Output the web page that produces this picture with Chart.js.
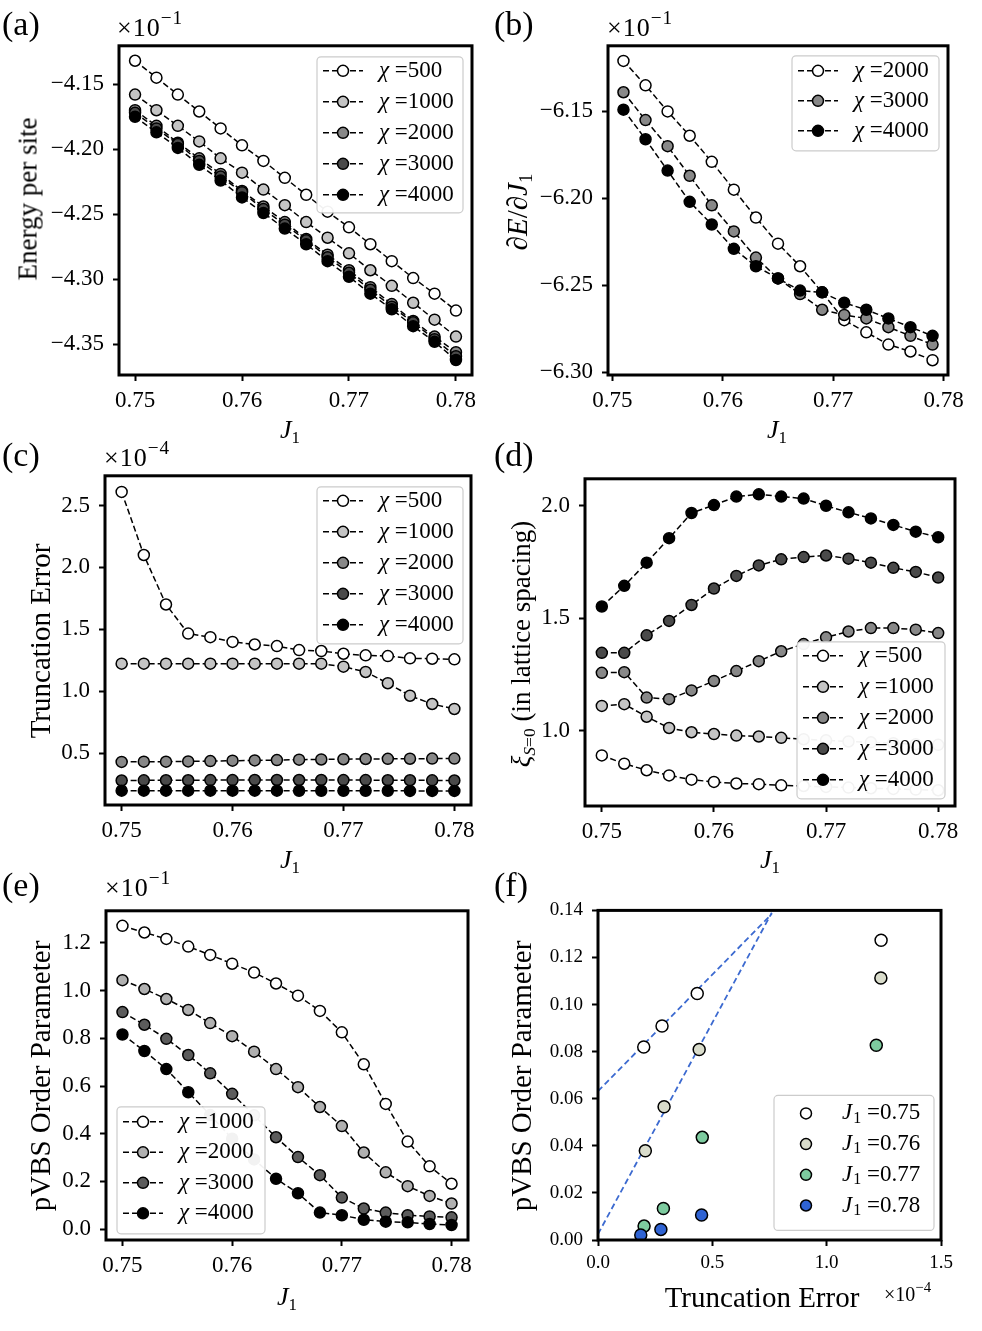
<!DOCTYPE html>
<html>
<head>
<meta charset="utf-8">
<title>DMRG J1 scan</title>
<script src="https://cdn.jsdelivr.net/npm/chart.js@4.4.1/dist/chart.umd.min.js"></script>
<style>
  body { margin: 0; width: 982px; height: 1331px; position: relative; background: #fff; overflow: hidden;
         font-family: "Liberation Serif", "DejaVu Serif", serif; color: #000; }
  canvas { position: absolute; }
  .lbl { position: absolute; white-space: nowrap; line-height: 1; }
  .panel { font-size: 34px; }
  .title { font-size: 26px; transform: translate(-50%, -50%); }
  .vtitle { font-size: 29px; transform: translate(-50%, -50%) rotate(-90deg); }
  .offset { font-size: 26px; letter-spacing: 1px; }
  .small { font-size: 20px; }
  sup { font-size: 74%; vertical-align: 0.6em; line-height: 0; }
  sub { font-size: 65%; vertical-align: -0.3em; line-height: 0; }
</style>
</head>
<body>

<canvas id="pa"></canvas>
<canvas id="pb"></canvas>
<canvas id="pc"></canvas>
<canvas id="pd"></canvas>
<canvas id="pe"></canvas>
<canvas id="pf"></canvas>

<!-- panel letters -->
<div class="lbl panel" style="left:2px;top:7px">(a)</div>
<div class="lbl panel" style="left:494px;top:7px">(b)</div>
<div class="lbl panel" style="left:2px;top:438px">(c)</div>
<div class="lbl panel" style="left:494px;top:438px">(d)</div>
<div class="lbl panel" style="left:2px;top:868px">(e)</div>
<div class="lbl panel" style="left:494px;top:868px">(f)</div>

<!-- offset texts -->
<div class="lbl offset" style="left:117px;top:15px">×10<sup>−1</sup></div>
<div class="lbl offset" style="left:607px;top:15px">×10<sup>−1</sup></div>
<div class="lbl offset" style="left:104px;top:445px">×10<sup>−4</sup></div>
<div class="lbl offset" style="left:105px;top:875px">×10<sup>−1</sup></div>
<div class="lbl small" style="left:884px;top:1284px">×10<sup>−4</sup></div>

<!-- axis titles -->
<div class="lbl vtitle" style="left:28px;top:199px;font-size:27px">Energy per site</div>
<div class="lbl title" style="left:290px;top:430px"><i>J</i><sub>1</sub></div>
<div class="lbl vtitle" style="left:517px;top:212px">∂<i>E</i>/∂<i>J</i><sub>1</sub></div>
<div class="lbl title" style="left:777px;top:430px"><i>J</i><sub>1</sub></div>
<div class="lbl vtitle" style="left:40px;top:641px">Truncation Error</div>
<div class="lbl title" style="left:290px;top:860px"><i>J</i><sub>1</sub></div>
<div class="lbl vtitle" style="left:521px;top:644px;font-size:27px"><i>ξ</i><sub><i>S</i>=0</sub> (in lattice spacing)</div>
<div class="lbl title" style="left:770px;top:860px"><i>J</i><sub>1</sub></div>
<div class="lbl vtitle" style="left:40px;top:1076px">pVBS Order Parameter</div>
<div class="lbl title" style="left:287px;top:1297px"><i>J</i><sub>1</sub></div>
<div class="lbl vtitle" style="left:521px;top:1076px">pVBS Order Parameter</div>
<div class="lbl title" style="left:762px;top:1297px;font-size:29px">Truncation Error</div>

<script>
// ---- data ----
const j1 = [0.750, 0.752, 0.754, 0.756, 0.758, 0.760, 0.762, 0.764,
            0.766, 0.768, 0.770, 0.772, 0.774, 0.776, 0.778, 0.780];
const j1Deriv = [0.751, 0.753, 0.755, 0.757, 0.759, 0.761, 0.763, 0.765,
                 0.767, 0.769, 0.771, 0.773, 0.775, 0.777, 0.779];
const j1Ticks = [0.75, 0.76, 0.77, 0.78];

// (a) energy per site, units of 1e-1
const energy500  = [-4.132, -4.145, -4.158, -4.171, -4.184, -4.197, -4.209, -4.222, -4.235, -4.248, -4.260, -4.273, -4.286, -4.299, -4.311, -4.324];
const energy1000 = [-4.158, -4.170, -4.182, -4.194, -4.207, -4.218, -4.231, -4.243, -4.256, -4.268, -4.280, -4.293, -4.305, -4.318, -4.331, -4.344];
const energy2000 = [-4.170, -4.182, -4.195, -4.207, -4.219, -4.232, -4.244, -4.256, -4.269, -4.281, -4.293, -4.306, -4.319, -4.332, -4.344, -4.356];
const energy3000 = [-4.172, -4.184, -4.196, -4.209, -4.221, -4.233, -4.246, -4.258, -4.270, -4.283, -4.295, -4.308, -4.321, -4.333, -4.346, -4.359];
const energy4000 = [-4.175, -4.187, -4.199, -4.212, -4.224, -4.237, -4.249, -4.261, -4.273, -4.286, -4.298, -4.311, -4.323, -4.336, -4.348, -4.362];
const energyTicks = [-4.35, -4.30, -4.25, -4.20, -4.15];

// (b) dE/dJ1, units of 1e-1
const deriv2000 = [-6.121, -6.135, -6.150, -6.164, -6.179, -6.195, -6.211, -6.226, -6.239, -6.254, -6.270, -6.277, -6.284, -6.288, -6.293];
const deriv3000 = [-6.139, -6.155, -6.170, -6.187, -6.204, -6.219, -6.234, -6.246, -6.255, -6.264, -6.267, -6.269, -6.274, -6.279, -6.284];
const deriv4000 = [-6.149, -6.166, -6.184, -6.202, -6.215, -6.229, -6.239, -6.246, -6.253, -6.254, -6.260, -6.264, -6.269, -6.274, -6.279];
const derivTicks = [-6.30, -6.25, -6.20, -6.15];

// (c) truncation error, units of 1e-4
const trunc500  = [2.61, 2.10, 1.70, 1.465, 1.436, 1.398, 1.377, 1.364, 1.332, 1.324, 1.302, 1.289, 1.283, 1.265, 1.262, 1.257];
const trunc1000 = [1.222, 1.222, 1.222, 1.222, 1.222, 1.222, 1.222, 1.222, 1.222, 1.222, 1.198, 1.155, 1.064, 0.963, 0.896, 0.856];
const trunc2000 = [0.428, 0.430, 0.430, 0.432, 0.435, 0.438, 0.440, 0.443, 0.446, 0.448, 0.450, 0.452, 0.453, 0.454, 0.455, 0.455];
const trunc3000 = [0.278, 0.279, 0.280, 0.280, 0.281, 0.281, 0.282, 0.282, 0.282, 0.282, 0.281, 0.281, 0.280, 0.280, 0.279, 0.278];
const trunc4000 = [0.196, 0.196, 0.196, 0.196, 0.196, 0.196, 0.196, 0.196, 0.195, 0.195, 0.195, 0.195, 0.195, 0.194, 0.194, 0.194];
const truncTicks = [0.5, 1.0, 1.5, 2.0, 2.5];

// (d) correlation length xi_{S=0}
const xi500  = [0.890, 0.853, 0.824, 0.801, 0.782, 0.772, 0.765, 0.762, 0.757, 0.754, 0.750, 0.747, 0.744, 0.741, 0.738, 0.735];
const xi1000 = [1.110, 1.118, 1.062, 1.012, 0.993, 0.985, 0.978, 0.974, 0.968, 0.962, 0.957, 0.952, 0.948, 0.944, 0.940, 0.937];
const xi2000 = [1.257, 1.260, 1.147, 1.140, 1.179, 1.221, 1.265, 1.309, 1.353, 1.385, 1.415, 1.441, 1.456, 1.456, 1.449, 1.434];
const xi3000 = [1.346, 1.346, 1.424, 1.488, 1.559, 1.632, 1.688, 1.735, 1.762, 1.772, 1.779, 1.765, 1.747, 1.724, 1.706, 1.681];
const xi4000 = [1.552, 1.644, 1.747, 1.856, 1.968, 2.003, 2.041, 2.051, 2.041, 2.032, 2.000, 1.971, 1.944, 1.915, 1.885, 1.860];
const xiTicks = [1.0, 1.5, 2.0];

// (e) pVBS order parameter, units of 1e-1
const pvbs1000 = [1.272, 1.244, 1.217, 1.185, 1.150, 1.113, 1.076, 1.030, 0.979, 0.915, 0.825, 0.691, 0.525, 0.367, 0.263, 0.190];
const pvbs2000 = [1.044, 1.007, 0.965, 0.919, 0.864, 0.809, 0.744, 0.671, 0.595, 0.512, 0.432, 0.321, 0.238, 0.180, 0.139, 0.107];
const pvbs3000 = [0.910, 0.857, 0.798, 0.730, 0.653, 0.567, 0.477, 0.385, 0.302, 0.226, 0.132, 0.086, 0.069, 0.058, 0.053, 0.049];
const pvbs4000 = [0.816, 0.747, 0.671, 0.574, 0.478, 0.379, 0.292, 0.211, 0.150, 0.069, 0.058, 0.039, 0.031, 0.028, 0.021, 0.017];
const pvbsTicks = [0.0, 0.2, 0.4, 0.6, 0.8, 1.0, 1.2];

// (f) pVBS vs truncation error (x in units of 1e-4)
const fTrunc075 = [0.200, 0.280, 0.434, 1.238];
const fPvbs075  = [0.0820, 0.0909, 0.1047, 0.1273];
const fTrunc076 = [0.207, 0.289, 0.4425, 1.237];
const fPvbs076  = [0.0379, 0.0566, 0.0809, 0.1113];
const fTrunc077 = [0.2015, 0.286, 0.456, 1.217];
const fPvbs077  = [0.0059, 0.0134, 0.0436, 0.0827];
const fTrunc078 = [0.187, 0.275, 0.453];
const fPvbs078  = [0.0021, 0.0045, 0.0106];
const fitX   = [0, 0.76];
const fit075 = [0.0632, 0.1385];
const fit076 = [0.0025, 0.1390];
const fTicksX = [0.0, 0.5, 1.0, 1.5];
const fTicksY = [0.00, 0.02, 0.04, 0.06, 0.08, 0.10, 0.12, 0.14];

// ---- helpers ----
const FONT = '"Liberation Serif", "DejaVu Serif", serif';
const PAD = { l: 80, r: 30, t: 20, b: 50 };

function fmt(d) {
    return v => v.toFixed(d).replace('-', '\u2212');
}

function pairs(xs, ys) {
    return xs.map((x, i) => ({ x: x, y: ys[i] }));
}

// dashed line with circle markers, later series drawn on top
function chiSeries(xs, list) {
    return list.map((s, i) => ({
        label: s.label,
        data: pairs(xs, s.ys),
        showLine: true,
        borderColor: '#000',
        borderWidth: 1.5,
        borderDash: [6, 3],
        pointRadius: 5.5,
        pointHoverRadius: 5.5,
        pointBorderWidth: 1.5,
        pointBorderColor: '#000',
        pointBackgroundColor: s.fill,
        order: list.length - i
    }));
}

function axis(min, max, ticks, digits, size, horizontal) {
    return {
        type: 'linear',
        min: min,
        max: max,
        afterBuildTicks: s => { s.ticks = ticks.map(v => ({ value: v })); },
        afterFit: s => { if (horizontal) s.height = PAD.b; else s.width = PAD.l; },
        ticks: {
            callback: fmt(digits),
            color: '#000',
            font: { family: FONT, size: size },
            padding: horizontal ? 6 : 9,
            maxRotation: 0,
            autoSkip: false
        },
        grid: {
            display: true,
            drawOnChartArea: false,
            drawTicks: true,
            tickLength: 6,
            tickWidth: 2,
            tickColor: '#000'
        },
        border: { display: false }
    };
}

// frame around the plot area, then the legend box on top
const framePlugin = {
    id: 'frameAndLegend',
    afterDatasetsDraw(chart) {
        const { ctx, chartArea: a } = chart;
        ctx.save();
        ctx.strokeStyle = '#000';
        ctx.lineWidth = 3;
        ctx.strokeRect(a.left, a.top, a.right - a.left, a.bottom - a.top);
        ctx.restore();

        const lg = chart.options.plugins.boxLegend;
        if (!lg) return;
        const x0 = a.left + lg.left, y0 = a.top + lg.top;
        ctx.save();
        ctx.beginPath();
        ctx.roundRect(x0, y0, lg.width, lg.height, 4);
        ctx.fillStyle = 'rgba(255,255,255,0.95)';
        ctx.fill();
        ctx.strokeStyle = '#cccccc';
        ctx.lineWidth = 1.2;
        ctx.stroke();

        lg.items.forEach((it, i) => {
            const y = y0 + lg.first + i * lg.gap;
            if (lg.line) {
                ctx.beginPath();
                ctx.setLineDash([6, 3]);
                ctx.strokeStyle = '#000';
                ctx.lineWidth = 1.5;
                ctx.moveTo(x0 + 6, y);
                ctx.lineTo(x0 + 46, y);
                ctx.stroke();
                ctx.setLineDash([]);
            }
            ctx.beginPath();
            ctx.arc(x0 + lg.markX, y, 5.5, 0, Math.PI * 2);
            ctx.fillStyle = it.fill;
            ctx.fill();
            ctx.lineWidth = 1.5;
            ctx.strokeStyle = '#000';
            ctx.stroke();

            ctx.fillStyle = '#000';
            ctx.textBaseline = 'middle';
            let tx = x0 + lg.textX;
            ctx.font = 'italic 23px ' + FONT;
            ctx.fillText(it.sym, tx, y);
            tx += ctx.measureText(it.sym).width;
            if (it.sub) {
                ctx.font = '16px ' + FONT;
                ctx.fillText(it.sub, tx + 1, y + 5);
                tx += ctx.measureText(it.sub).width + 1;
            }
            ctx.font = '23px ' + FONT;
            ctx.fillText(' =' + it.val, tx, y);
        });
        ctx.restore();
    }
};

function makePanel(id, box, datasets, xAxis, yAxis, legend) {
    const cv = document.getElementById(id);
    const w = box.r - box.l + PAD.l + PAD.r;
    const h = box.b - box.t + PAD.t + PAD.b;
    cv.width = w;
    cv.height = h;
    cv.style.width = w + 'px';
    cv.style.height = h + 'px';
    cv.style.left = (box.l - PAD.l) + 'px';
    cv.style.top = (box.t - PAD.t) + 'px';

    return new Chart(cv, {
        type: 'scatter',
        data: { datasets: datasets },
        options: {
            responsive: false,
            animation: false,
            devicePixelRatio: 1,
            layout: { padding: { left: 0, top: PAD.t, right: PAD.r, bottom: 0 } },
            scales: { x: xAxis, y: yAxis },
            plugins: {
                legend: { display: false },
                tooltip: { enabled: false },
                boxLegend: legend
            }
        },
        plugins: [framePlugin]
    });
}

function chiLegend(pos, series) {
    return Object.assign({
        line: true, markX: 26, textX: 62, first: 14, gap: 31,
        items: series.map(s => ({ sym: 'χ', val: s.label.replace('chi=', ''), fill: s.fill }))
    }, pos);
}

const grey5 = ['#ffffff', '#c4c4c4', '#888888', '#4a4a4a', '#000000'];
const grey4 = ['#ffffff', '#b0b0b0', '#5c5c5c', '#000000'];
const grey3 = ['#ffffff', '#888888', '#000000'];

// (a)
const seriesA = [
    { label: 'chi=500', ys: energy500, fill: grey5[0] },
    { label: 'chi=1000', ys: energy1000, fill: grey5[1] },
    { label: 'chi=2000', ys: energy2000, fill: grey5[2] },
    { label: 'chi=3000', ys: energy3000, fill: grey5[3] },
    { label: 'chi=4000', ys: energy4000, fill: grey5[4] }
];
makePanel('pa', { l: 119, t: 43, r: 472, b: 375 }, chiSeries(j1, seriesA),
    axis(0.7485, 0.7815, j1Ticks, 2, 23, true),
    axis(-4.3735, -4.1205, energyTicks, 2, 23, false),
    chiLegend({ left: 198, top: 11, width: 146, height: 156 }, seriesA));

// (b)
const seriesB = [
    { label: 'chi=2000', ys: deriv2000, fill: grey3[0] },
    { label: 'chi=3000', ys: deriv3000, fill: grey3[1] },
    { label: 'chi=4000', ys: deriv4000, fill: grey3[2] }
];
makePanel('pb', { l: 608, t: 43, r: 948, b: 375 }, chiSeries(j1Deriv, seriesB),
    axis(0.7496, 0.7804, j1Ticks, 2, 23, true),
    axis(-6.3015, -6.1123, derivTicks, 2, 23, false),
    chiLegend({ left: 184, top: 10, width: 147, height: 95, first: 15, gap: 30 }, seriesB));

// (c)
const seriesC = [
    { label: 'chi=500', ys: trunc500, fill: grey5[0] },
    { label: 'chi=1000', ys: trunc1000, fill: grey5[1] },
    { label: 'chi=2000', ys: trunc2000, fill: grey5[2] },
    { label: 'chi=3000', ys: trunc3000, fill: grey5[3] },
    { label: 'chi=4000', ys: trunc4000, fill: grey5[4] }
];
makePanel('pc', { l: 105, t: 473, r: 471, b: 805 }, chiSeries(j1, seriesC),
    axis(0.7485, 0.7815, j1Ticks, 2, 23, true),
    axis(0.08, 2.74, truncTicks, 1, 23, false),
    chiLegend({ left: 212, top: 11, width: 146, height: 157 }, seriesC));

// (d)
const seriesD = [
    { label: 'chi=500', ys: xi500, fill: grey5[0] },
    { label: 'chi=1000', ys: xi1000, fill: grey5[1] },
    { label: 'chi=2000', ys: xi2000, fill: grey5[2] },
    { label: 'chi=3000', ys: xi3000, fill: grey5[3] },
    { label: 'chi=4000', ys: xi4000, fill: grey5[4] }
];
makePanel('pd', { l: 585, t: 476, r: 955, b: 806 }, chiSeries(j1, seriesD),
    axis(0.7485, 0.7815, j1Ticks, 2, 23, true),
    axis(0.665, 2.12, xiTicks, 1, 23, false),
    chiLegend({ left: 212, top: 163, width: 148, height: 157 }, seriesD));

// (e)
const seriesE = [
    { label: 'chi=1000', ys: pvbs1000, fill: grey4[0] },
    { label: 'chi=2000', ys: pvbs2000, fill: grey4[1] },
    { label: 'chi=3000', ys: pvbs3000, fill: grey4[2] },
    { label: 'chi=4000', ys: pvbs4000, fill: grey4[3] }
];
makePanel('pe', { l: 106, t: 908, r: 468, b: 1240 }, chiSeries(j1, seriesE),
    axis(0.7485, 0.7815, j1Ticks, 2, 23, true),
    axis(-0.046, 1.335, pvbsTicks, 1, 23, false),
    chiLegend({ left: 11, top: 196, width: 148, height: 127, first: 15, gap: 30.5 }, seriesE));

// (f)
const jColors = ['#ffffff', '#d9dccb', '#7dcb9f', '#2f63d3'];
const fitStyle = { showLine: true, borderColor: '#3c6ad0', borderWidth: 1.8, borderDash: [6, 3.5], pointRadius: 0, order: 10 };
const dotStyle = { pointRadius: 6, pointHoverRadius: 6, pointBorderWidth: 1.5, pointBorderColor: '#000', showLine: false };
const datasetsF = [
    Object.assign({ label: 'fit 0.75', data: pairs(fitX, fit075) }, fitStyle),
    Object.assign({ label: 'fit 0.76', data: pairs(fitX, fit076) }, fitStyle),
    Object.assign({ label: 'J1=0.75', data: pairs(fTrunc075, fPvbs075), pointBackgroundColor: jColors[0], order: 4 }, dotStyle),
    Object.assign({ label: 'J1=0.76', data: pairs(fTrunc076, fPvbs076), pointBackgroundColor: jColors[1], order: 3 }, dotStyle),
    Object.assign({ label: 'J1=0.77', data: pairs(fTrunc077, fPvbs077), pointBackgroundColor: jColors[2], order: 2 }, dotStyle),
    Object.assign({ label: 'J1=0.78', data: pairs(fTrunc078, fPvbs078), pointBackgroundColor: jColors[3], order: 1 }, dotStyle)
];
makePanel('pf', { l: 598, t: 910, r: 941, b: 1240 }, datasetsF,
    axis(0, 1.5, fTicksX, 1, 19, true),
    axis(0, 0.14, fTicksY, 2, 19, false),
    {
        line: false, markX: 32, textX: 68, first: 18, gap: 30.7,
        left: 176, top: 185, width: 160, height: 135,
        items: ['0.75', '0.76', '0.77', '0.78'].map((v, i) => ({ sym: 'J', sub: '1', val: v, fill: jColors[i] }))
    });
</script>
</body>
</html>
